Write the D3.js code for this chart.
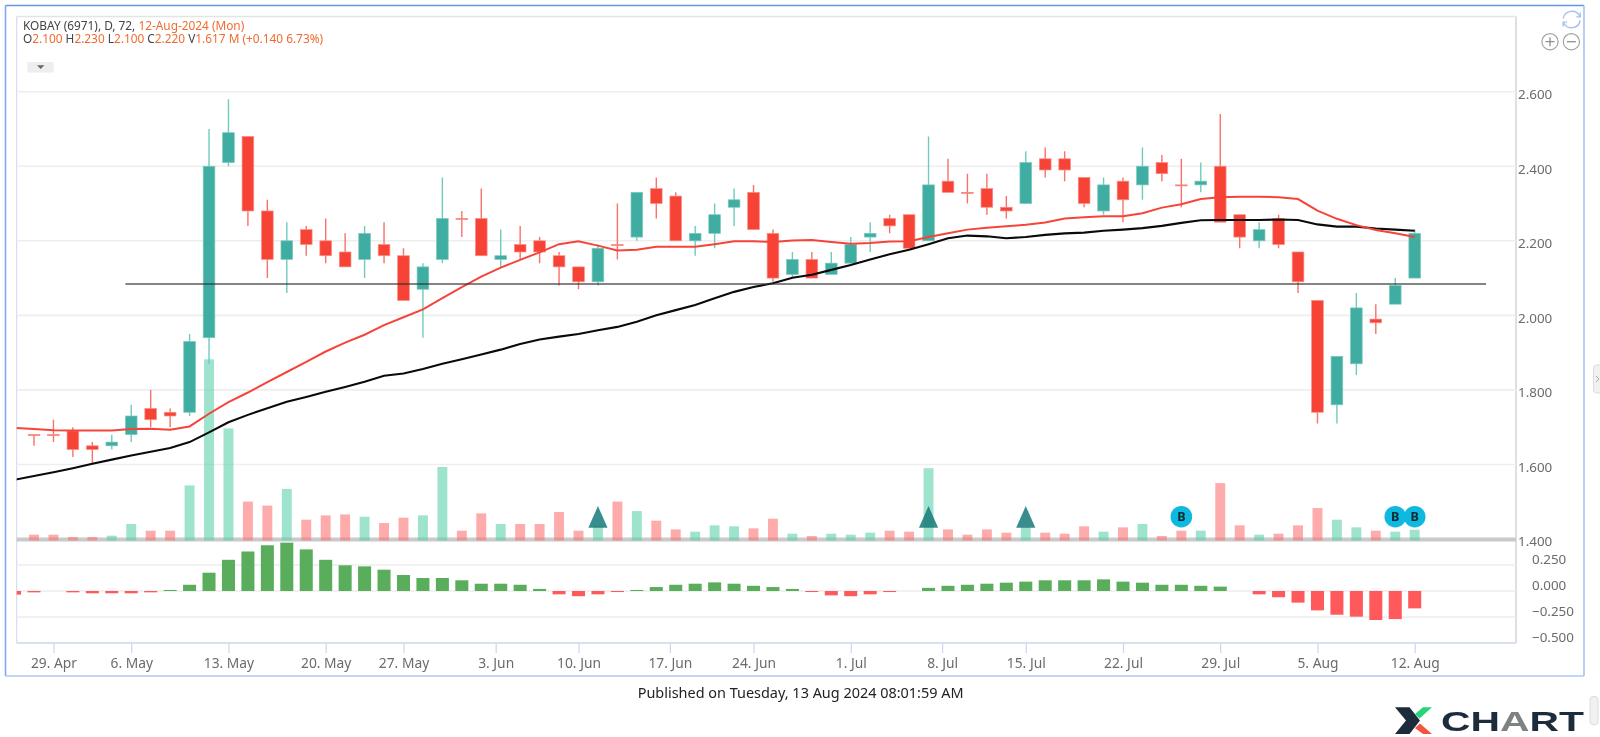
<!DOCTYPE html>
<html><head><meta charset="utf-8">
<style>html,body{margin:0;padding:0;background:#fff;overflow:hidden}svg{display:block;filter:blur(.35px)}text{font-family:"Noto Sans",sans-serif}</style>
<script src="https://cdn.jsdelivr.net/npm/d3@7"></script></head><body><div id="c"></div>
<script>
const opens=[1.68,1.68,1.69,1.65,1.65,1.68,1.75,1.74,1.74,1.94,2.41,2.48,2.28,2.15,2.23,2.20,2.17,2.15,2.19,2.16,2.07,2.15,2.26,2.26,2.15,2.19,2.20,2.16,2.13,2.09,2.19,2.21,2.34,2.32,2.20,2.22,2.29,2.33,2.22,2.11,2.15,2.11,2.14,2.21,2.26,2.27,2.20,2.36,2.33,2.34,2.29,2.30,2.42,2.42,2.37,2.28,2.36,2.35,2.41,2.35,2.35,2.40,2.27,2.20,2.26,2.17,2.04,1.76,1.87,1.99,2.03,2.10];
const closes=[1.68,1.68,1.64,1.64,1.66,1.73,1.72,1.73,1.93,2.40,2.49,2.28,2.15,2.20,2.19,2.16,2.13,2.22,2.16,2.04,2.13,2.26,2.26,2.16,2.16,2.17,2.17,2.13,2.09,2.18,2.19,2.33,2.30,2.20,2.22,2.27,2.31,2.23,2.10,2.15,2.10,2.14,2.19,2.22,2.24,2.18,2.35,2.33,2.33,2.29,2.28,2.41,2.39,2.39,2.30,2.35,2.31,2.40,2.38,2.35,2.36,2.25,2.21,2.23,2.19,2.09,1.74,1.89,2.02,1.98,2.08,2.22];
const highs=[1.68,1.72,1.70,1.66,1.68,1.76,1.80,1.75,1.95,2.50,2.58,2.48,2.31,2.25,2.24,2.26,2.22,2.24,2.25,2.18,2.14,2.37,2.28,2.34,2.23,2.24,2.21,2.17,2.13,2.19,2.30,2.33,2.37,2.33,2.24,2.30,2.34,2.35,2.23,2.17,2.17,2.17,2.21,2.25,2.27,2.27,2.48,2.42,2.38,2.38,2.32,2.44,2.45,2.44,2.37,2.37,2.37,2.45,2.43,2.42,2.41,2.54,2.27,2.25,2.27,2.17,2.04,1.89,2.06,2.03,2.10,2.23];
const lows=[1.65,1.66,1.62,1.60,1.64,1.66,1.70,1.70,1.73,1.87,2.40,2.24,2.10,2.06,2.16,2.14,2.13,2.10,2.14,2.04,1.94,2.14,2.21,2.16,2.13,2.15,2.14,2.08,2.07,2.08,2.15,2.20,2.26,2.20,2.16,2.18,2.24,2.23,2.09,2.10,2.10,2.11,2.14,2.17,2.22,2.18,2.20,2.33,2.30,2.27,2.26,2.30,2.37,2.36,2.29,2.27,2.25,2.31,2.36,2.29,2.33,2.25,2.18,2.18,2.18,2.06,1.71,1.71,1.84,1.95,2.03,2.10];
const volumes=[.75,.75,.35,.35,.58,2.6,1.44,1.44,9.3,31.2,19.2,6.5,5.8,8.7,3.35,4.1,4.27,3.87,2.77,3.7,4.1,12.5,1.44,4.45,2.6,2.6,2.6,4.68,1.44,2.3,6.5,4.85,3.18,1.67,1.27,2.37,2.2,1.85,3.52,.92,.52,.92,.75,1.1,1.44,1.27,12.3,1.67,.75,1.67,1.1,2.08,1.1,.92,2.2,1.27,2.02,2.6,.52,1.44,1.44,9.7,2.37,.75,.92,2.37,5.37,3.35,2.02,1.44,1.27,1.617];
// the two series below start one session before the first candle (index -1), which the pane clips
const macdHist=[-.035,-.013,0,-.013,-.022,-.022,-.022,-.013,.01,.06,.176,.30,.38,.44,.465,.40,.30,.247,.237,.205,.154,.125,.125,.103,.07,.07,.06,.02,-.032,-.05,-.032,-.01,.01,.038,.06,.07,.083,.07,.05,.038,.02,-.01,-.042,-.05,-.032,-.01,0,.03,.05,.06,.07,.08,.09,.103,.103,.103,.112,.09,.08,.06,.06,.05,.042,0,-.032,-.06,-.112,-.186,-.228,-.247,-.279,-.27,-.167];
const maRed=[1.698,1.695,1.692,1.691,1.691,1.691,1.695,1.696,1.693,1.702,1.736,1.767,1.793,1.821,1.848,1.875,1.903,1.927,1.948,1.974,1.995,2.016,2.046,2.076,2.104,2.128,2.149,2.169,2.191,2.199,2.187,2.174,2.176,2.184,2.184,2.184,2.191,2.199,2.199,2.197,2.201,2.202,2.197,2.192,2.194,2.198,2.199,2.21,2.22,2.23,2.235,2.239,2.243,2.249,2.26,2.263,2.266,2.266,2.274,2.289,2.298,2.312,2.317,2.318,2.318,2.317,2.312,2.281,2.259,2.242,2.229,2.22,2.21];
const maBlack=[1.559,1.569,1.579,1.59,1.602,1.613,1.624,1.634,1.644,1.66,1.686,1.713,1.733,1.751,1.768,1.781,1.795,1.808,1.822,1.838,1.844,1.856,1.87,1.882,1.895,1.908,1.923,1.935,1.943,1.95,1.96,1.969,1.983,2.0,2.014,2.028,2.046,2.063,2.076,2.086,2.101,2.109,2.122,2.135,2.15,2.164,2.176,2.191,2.207,2.214,2.212,2.207,2.21,2.216,2.22,2.222,2.227,2.23,2.234,2.24,2.248,2.255,2.256,2.256,2.256,2.257,2.256,2.244,2.238,2.238,2.233,2.23,2.227];
const xTickPos=[1,5,10,15,19,23.74,28,32.7,37,42,46.7,51,56,61,66,71];
const xTickLabels=["29. Apr","6. May","13. May","20. May","27. May","3. Jun","10. Jun","17. Jun","24. Jun","1. Jul","8. Jul","15. Jul","22. Jul","29. Jul","5. Aug","12. Aug"];
const priceTicks=[1.4,1.6,1.8,2.0,2.2,2.4,2.6];
const macdTicks=[-.5,-.25,0,.25];
const triangleIdx=[29,46,51];
const buyIdx=[59,70,71];
const hLine=[4.7,74.67,2.084];
const headerA="KOBAY (6971), D, 72, ",headerDate="12-Aug-2024 (Mon)";
const headerB=[["O","2.100"],["H","2.230"],["L","2.100"],["C","2.220"],["V","1.617 M"]],headerChg="(+0.140 6.73%)";
const published="Published on Tuesday, 13 Aug 2024 08:01:59 AM";

const L=16.7,R=1516,T=16.5,B=643;
const svg=d3.select("#c").append("svg").attr("width",1600).attr("height",737);
const x=d3.scaleLinear().domain([0,71]).range([34,1414.7]);
const y=d3.scaleLinear().domain([1.4,2.6]).range([539,91.7]);
const yV=d3.scaleLinear().domain([0,31.2]).range([539,359.3]);
const yM=d3.scaleLinear().domain([-.5,.25]).range([643,565]);
const step=x(1)-x(0);
svg.append("clipPath").attr("id","p").append("rect").attr("x",L).attr("y",T).attr("width",R-L).attr("height",B-T);

// outer frame
[[5.5,5.5,1584,5.5,"#5f96ee"],[5.5,5.5,5.5,676,"#7fa9f2"],[1584,5.5,1584,676,"#a5c2f6"],[5.5,676,1584,676,"#adc8f6"]].forEach(d=>svg.append("line").attr("x1",d[0]).attr("y1",d[1]).attr("x2",d[2]).attr("y2",d[3]).attr("stroke",d[4]).attr("stroke-width",1.6));
// pane borders
svg.append("line").attr("x1",L).attr("x2",R).attr("y1",T).attr("y2",T).attr("stroke","#e4e4e4").attr("stroke-width",1.5);
svg.append("line").attr("x1",L).attr("x2",L).attr("y1",T).attr("y2",B).attr("stroke","#d5dcec").attr("stroke-width",1.2);
svg.append("line").attr("x1",R).attr("x2",R).attr("y1",T).attr("y2",B).attr("stroke","#dfdfdf").attr("stroke-width",2);

// axes and grid
const grid=svg.append("g");
priceTicks.forEach(v=>{if(v>1.4)grid.append("line").attr("x1",L).attr("x2",R).attr("y1",y(v)).attr("y2",y(v)).attr("stroke","#eeeeee").attr("stroke-width",1.6)});
macdTicks.forEach(v=>{if(v>-.5)grid.append("line").attr("x1",L).attr("x2",R).attr("y1",yM(v)).attr("y2",yM(v)).attr("stroke","#ececec").attr("stroke-width",1.5)});
grid.append("line").attr("x1",L).attr("x2",R).attr("y1",539.5).attr("y2",539.5).attr("stroke","#cacaca").attr("stroke-width",4);

const style=(g,c,fs)=>{g.select(".domain").remove();g.selectAll("text").attr("fill",c).attr("font-size",fs)};
const ap=svg.append("g").attr("transform",`translate(${R},-1)`).call(d3.axisRight(y).tickValues(priceTicks).tickFormat(d3.format(".3f")).tickSize(0).tickPadding(2));
style(ap,"#6b6b6b",13.4);ap.selectAll("text").attr("dy","0.58em");
const am=svg.append("g").attr("transform",`translate(${R},-7.4)`).call(d3.axisRight(yM).tickValues(macdTicks).tickFormat(d3.format(".3f")).tickSize(0).tickPadding(16));
style(am,"#6b6b6b",13.4);am.selectAll("text").attr("dy","0.42em");
const ax=svg.append("g").attr("transform",`translate(0,${B})`).call(d3.axisBottom(x).tickValues(xTickPos).tickFormat((d,i)=>xTickLabels[i]).tickSize(10).tickPadding(5));
style(ax,"#6b6b6b",13.8);ax.selectAll("line").attr("stroke","#ccd6eb").attr("stroke-width",1.2);
svg.append("line").attr("x1",L).attr("x2",R).attr("y1",B).attr("y2",B).attr("stroke","#ccd6eb").attr("stroke-width",1.3);

const plot=svg.append("g").attr("clip-path","url(#p)");
const idx=d3.range(opens.length);
const up=i=>closes[i]>opens[i];

// volume
plot.append("g").selectAll("rect").data(idx).join("rect")
 .attr("x",i=>x(i)-step*.255).attr("width",step*.51).attr("y",i=>yV(volumes[i])).attr("height",i=>yV(0)-yV(volumes[i])+1.5)
 .attr("fill",i=>up(i)?"#58cfa9":"#fb6f6f").attr("fill-opacity",.58);

// candles
const cg=plot.append("g");
cg.selectAll("line").data(idx).join("line").attr("x1",i=>x(i)).attr("x2",i=>x(i)).attr("y1",i=>y(highs[i])).attr("y2",i=>y(lows[i]))
 .attr("stroke",i=>up(i)?"#6fcbbc":"#f9716a").attr("stroke-width",1.4);
cg.selectAll("rect").data(idx).join("rect")
 .attr("x",i=>x(i)-step*.3).attr("width",step*.6)
 .attr("y",i=>y(Math.max(opens[i],closes[i]))).attr("height",i=>Math.max(y(Math.min(opens[i],closes[i]))-y(Math.max(opens[i],closes[i])),1))
 .attr("fill",i=>up(i)?"#40ada2":"#f74236").attr("stroke",i=>up(i)?"#7cc9be":"#fa8f88").attr("stroke-width",.7);

// macd
plot.append("g").selectAll("rect").data(macdHist.map((v,i)=>({v,i:i-1})).filter(d=>d.v!==0)).join("rect")
 .attr("x",d=>x(d.i)-step*.335).attr("width",step*.67)
 .attr("y",d=>yM(Math.max(d.v,0))).attr("height",d=>Math.abs(yM(d.v)-yM(0)))
 .attr("fill",d=>d.v>0?"#5aad5b":"#ff595c");

// averages
const line=d3.line().x((d,i)=>x(i-1)).y(d=>y(d));
plot.append("path").attr("d",line(maBlack)).attr("fill","none").attr("stroke","#0a0a0a").attr("stroke-width",2.1);
plot.append("path").attr("d",line(maRed)).attr("fill","none").attr("stroke","#f6443a").attr("stroke-width",2);
// horizontal level
svg.append("line").attr("x1",x(hLine[0])).attr("x2",x(hLine[1])).attr("y1",y(hLine[2])).attr("y2",y(hLine[2])).attr("stroke","#333").attr("stroke-opacity",.8).attr("stroke-width",1.4);

// markers
const yTop=yV(5.73),yBase=yV(1.96),yBuy=yV(3.87);
svg.append("g").selectAll("path").data(triangleIdx).join("path")
 .attr("d",i=>`M${x(i)-9.6},${yBase}L${x(i)},${yTop}L${x(i)+9.6},${yBase}Z`).attr("fill","#17797a").attr("fill-opacity",.85);
const bg=svg.append("g").selectAll("g").data(buyIdx).join("g").attr("transform",i=>`translate(${x(i)},${yBuy})`);
bg.append("circle").attr("r",10.8).attr("fill","#0fb8de");
bg.append("text").text("B").attr("text-anchor","middle").attr("dy","0.37em").attr("font-size",12.5).attr("font-weight",700).attr("fill","#0b2a33");

// header
const h1=svg.append("text").attr("x",23).attr("y",29.8).attr("font-size",11.85).attr("fill","#444");
h1.append("tspan").text(headerA);h1.append("tspan").attr("fill","#f26b2e").text(headerDate);
const h2=svg.append("text").attr("x",23).attr("y",43).attr("font-size",11.85).attr("fill","#444");
headerB.forEach(d=>{h2.append("tspan").text(d[0]);h2.append("tspan").attr("fill","#f26b2e").text(d[1]+" ")});
h2.append("tspan").attr("fill","#f26b2e").text(headerChg);

// dropdown
svg.append("rect").attr("x",27.3).attr("y",62).attr("width",26.4).attr("height",10.6).attr("fill","#eeeeee");
svg.append("path").attr("d","M37,65.2H44.4L40.7,69Z").attr("fill","#666");

// zoom / refresh icons
[[1550,"M-4.5,0H4.5M0,-4.5V4.5"],[1571.4,"M-4.5,0H4.5"]].forEach(d=>{const g=svg.append("g").attr("transform",`translate(${d[0]},41.7)`);
 g.append("circle").attr("r",8.1).attr("fill","#fff").attr("stroke","#a3a3a3").attr("stroke-width",1.2);
 g.append("path").attr("d",d[1]).attr("stroke","#8f8f8f").attr("stroke-width",1.3)});
const ref=svg.append("g").attr("transform","translate(1571.7,19.5)").attr("fill","none").attr("stroke","#a9c0ef").attr("stroke-width",1.4);
ref.append("path").attr("d","M-8.5,-1A8.8,8.8 0 0 1 8.2,-3");ref.append("path").attr("d","M8.5,1A8.8,8.8 0 0 1 -8.2,3");
ref.append("path").attr("d","M8.6,-7V-2.6H4.6");ref.append("path").attr("d","M-8.6,7V2.6H-4.6");

// scroll stubs
svg.append("rect").attr("x",1593.5).attr("y",365).attr("width",12).attr("height",28).attr("rx",3).attr("fill","#f1f1f1").attr("stroke","#dcdcdc");
svg.append("path").attr("d","M1596,376L1599,379L1596,382").attr("fill","none").attr("stroke","#aaa");
svg.append("rect").attr("x",1590).attr("y",696.5).attr("width",8).attr("height",28).attr("rx",3).attr("fill","#f1f1f1").attr("stroke","#dcdcdc");

// footer
svg.append("text").attr("x",637.7).attr("y",698).attr("font-size",14.45).attr("fill","#222").text(published);

// logo
svg.append("path").attr("d","M1395,707.3H1409.5L1420,720.5L1409.5,734H1395L1406,720.5Z").attr("fill","#1c2c3b");
svg.append("path").attr("d","M1415,714L1423,707.3H1432L1419.5,718.5Z").attr("fill","#22d67a");
svg.append("path").attr("d","M1420,723.5L1432,734H1423L1415,728Z").attr("fill","#f4553f");
const lg=svg.append("text").attr("x",1441).attr("y",731).attr("font-weight",700).attr("font-size",28).attr("fill","#1c2c3b").attr("textLength",143).attr("lengthAdjust","spacingAndGlyphs").style("font-family","Liberation Sans");
lg.append("tspan").text("CH");lg.append("tspan").attr("fill","#7f8283").text("A");lg.append("tspan").text("RT");
</script></body></html>
